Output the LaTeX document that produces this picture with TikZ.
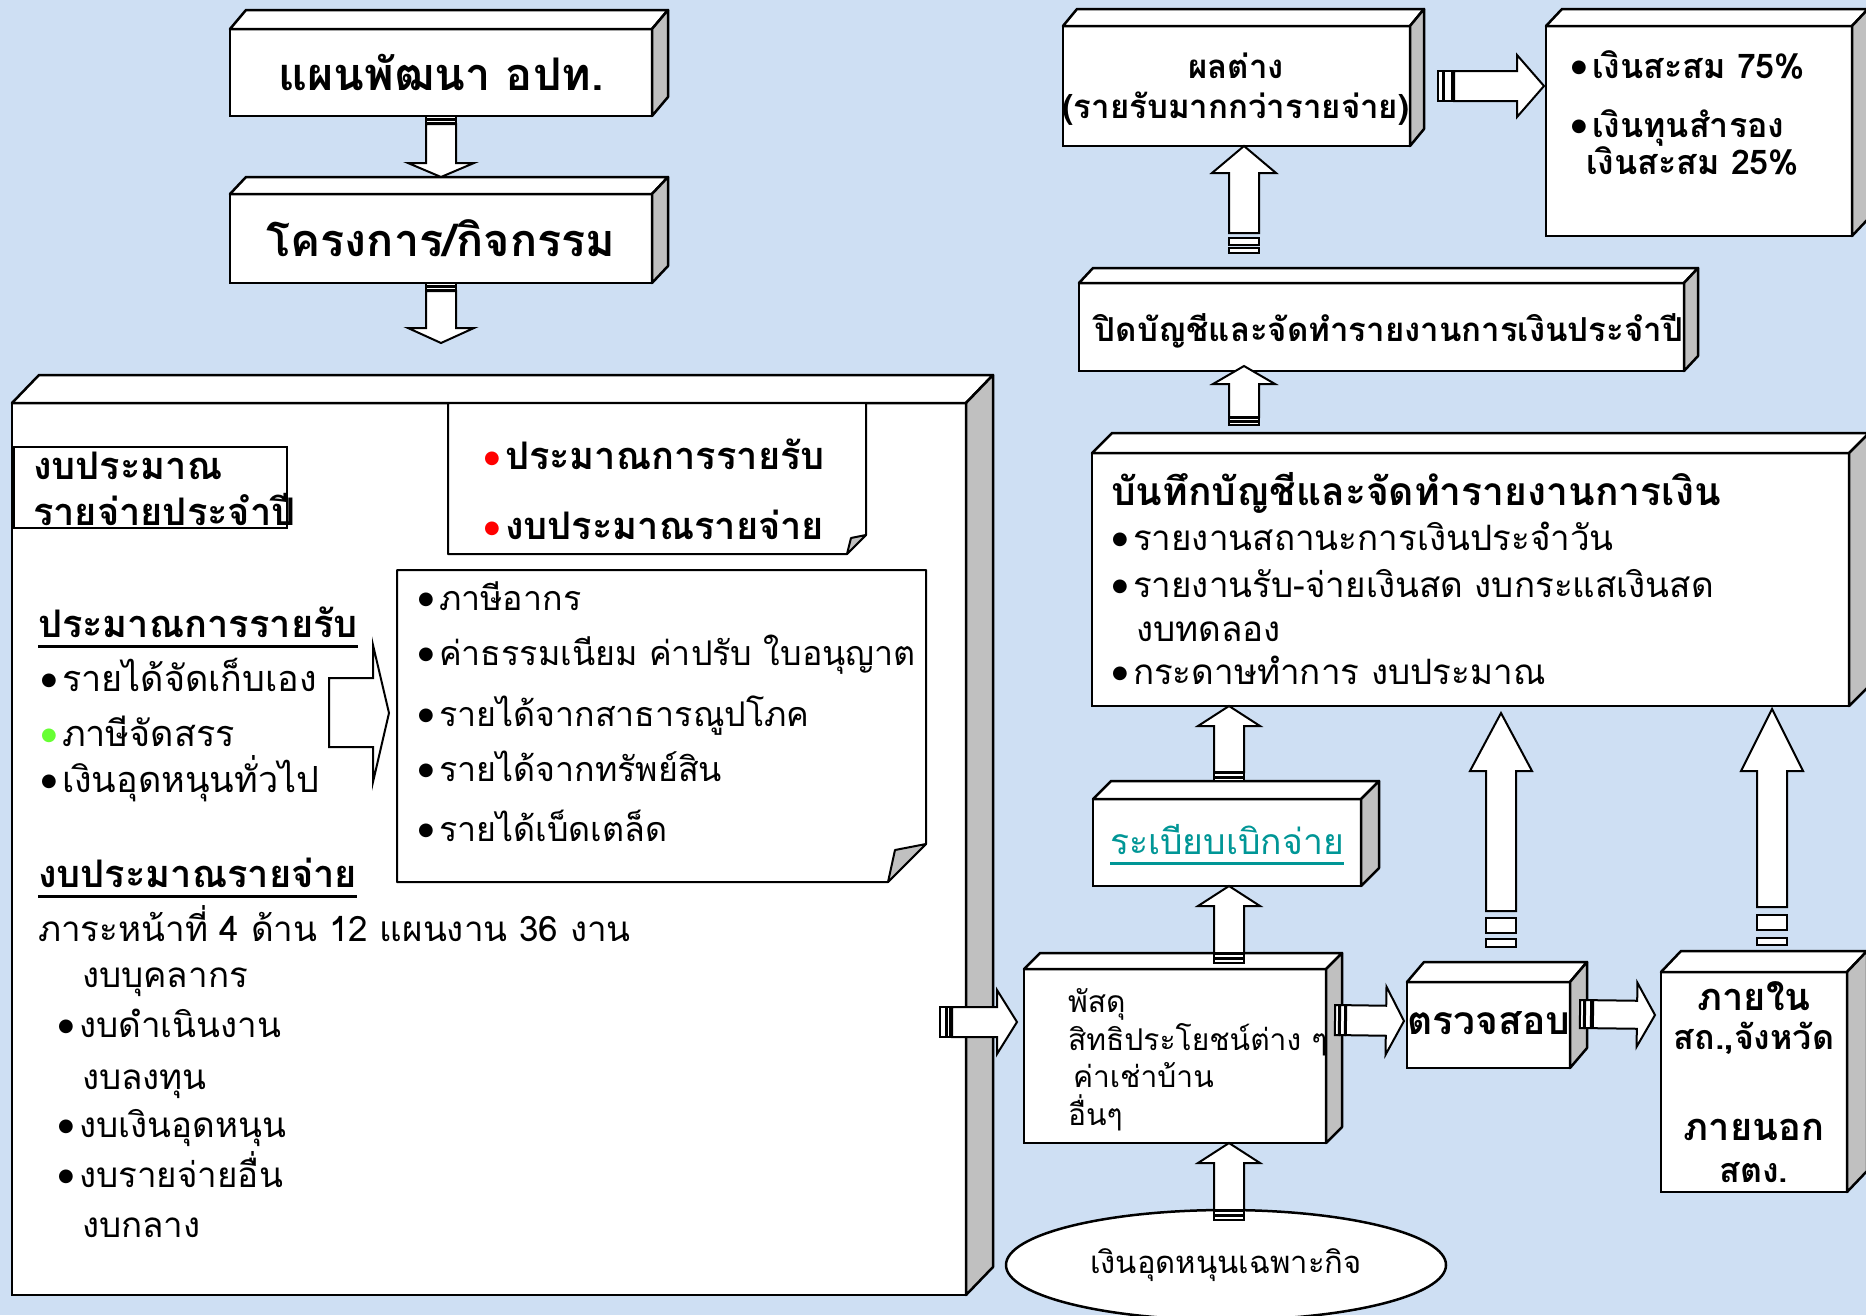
\documentclass[tikz,border=0pt]{standalone}
\usepackage{fontspec}
\setmainfont[Script=Thai]{Loma}
\newfontfamily\symfont{DejaVu Sans}
\usetikzlibrary{calc,shapes.geometric}
\definecolor{bgblue}{RGB}{206,223,243}
\definecolor{sidegray}{RGB}{192,192,192}
\definecolor{tealtxt}{RGB}{0,150,150}
\definecolor{bulgreen}{RGB}{102,255,51}
\newcommand{\bul}{{\symfont\fontsize{18}{18}\selectfont\raisebox{6.5pt}{●}}}
\newcommand{\fs}[1]{\fontsize{#1}{#1}\selectfont}
\newcommand{\bl}[1][black]{\makebox[23pt][l]{\hspace{2pt}\textcolor{#1}{\bul}}}
% 3D box: name, x1, y1, x2, y2, dx, dy, text
\newcommand{\tdbox}[8]{%
  \node[front, minimum width={(#4-#2)*1pt}, minimum height={(#5-#3)*1pt}] (#1) at (#2,#3) {#8};
  \draw[topface] (#1.north west) -- ++(#6,-#7) -- ($(#1.north east)+(#6,-#7)$) -- (#1.north east) -- cycle;
  \draw[sideface] (#1.north east) -- ++(#6,-#7) -- ($(#1.south east)+(#6,-#7)$) -- (#1.south east) -- cycle;
}
% striped block arrow: tail, tip, shaft half width, head half width, head length, bar1, gap1, bar2, gap2
\newcommand{\sarrow}[9]{%
  \path let \p1=(#1), \p2=(#2) in \pgfextra{%
    \pgfmathsetmacro\arang{atan2(\y2-\y1,\x2-\x1)}%
    \pgfmathsetmacro\arlen{veclen(\x2-\x1,\y2-\y1)}%
    \xdef\arangG{\arang}\xdef\arlenG{\arlen}};
  \begin{scope}[shift={(#1)}, rotate=\arangG, x=1pt, y=1pt]
    \draw[arrowbody] (0,-#3) rectangle (#6,#3);
    \draw[arrowbody] ({#6+#7},-#3) rectangle ({#6+#7+#8},#3);
    \draw[arrowbody] ({#6+#7+#8+#9},-#3) -- ({\arlenG-#5},-#3) -- ({\arlenG-#5},-#4)
      -- (\arlenG,0) -- ({\arlenG-#5},#4) -- ({\arlenG-#5},#3) -- ({#6+#7+#8+#9},#3) -- cycle;
  \end{scope}}
\begin{document}
\begin{tikzpicture}[x=1pt,y=-1pt,
  front/.style={draw, line width=2.5pt, fill=white, inner sep=0pt, outer sep=0pt, anchor=north west, align=center},
  topface/.style={draw, line width=2.5pt, fill=white, line join=round},
  sideface/.style={draw, line width=2.5pt, fill=sidegray, line join=round},
  arrowbody/.style={draw, line width=2pt, fill=white, line join=miter},
  notebox/.style={draw, line width=2pt, fill=white, line join=round},
  flap/.style={draw, line width=2pt, fill=sidegray, line join=round},
  txt/.style={inner sep=0pt, outer sep=0pt, anchor=mid west, yshift=-5pt},
  ctxt/.style={inner sep=0pt, outer sep=0pt, anchor=mid, yshift=-5pt},
  ul/.style={line width=2.5pt},
  R35/.style={font=\fs{35}},
  R34/.style={font=\fs{34}},
  R36/.style={font=\fs{36}},
  B38/.style={font=\fs{38}\bfseries},
  R30/.style={font=\fs{30}},
  B33/.style={font=\fs{33}\bfseries},
  B34/.style={font=\fs{34}\bfseries}]
\useasboundingbox (0,0) rectangle (1866,1315);
\clip (0,0) rectangle (1866,1315);
\fill[bgblue] (0,0) rectangle (1866,1315);

% ---------- big budget box ----------
\tdbox{C}{12}{403}{966}{1295}{27}{28}{}
\node[draw, line width=2.5pt, fill=white, inner sep=0pt, outer sep=0pt, anchor=north west,
      minimum width=273pt, minimum height=81pt] (L) at (14,447) {};
\node[txt, B38] (L1) at (33,472) {งบประมาณ};
\node[txt, B38] (L2) at (33,518) {รายจ่ายประจำปี};

% note 1
\node[inner sep=0pt, outer sep=0pt, anchor=north west, minimum width=418pt, minimum height=151pt] (N1) at (448,403) {};
\draw[notebox] (N1.north west) -- (N1.north east) -- ($(N1.south east)+(0,-19)$) -- ($(N1.south east)+(-19,0)$) -- (N1.south west) -- cycle;
\draw[flap] ($(N1.south east)+(0,-19)$) -- ($(N1.south east)+(-19,0)$) -- ($(N1.south east)+(-15,-16)$) -- cycle;
\node[txt, B38] (n1a) at (482,462) {\bl[red]ประมาณการรายรับ};
\node[txt, B38] (n1b) at (482,532) {\bl[red]งบประมาณรายจ่าย};

% note 2
\node[inner sep=0pt, outer sep=0pt, anchor=north west, minimum width=529pt, minimum height=312pt] (N2) at (397,570) {};
\draw[notebox] (N2.north west) -- (N2.north east) -- ($(N2.south east)+(0,-38)$) -- ($(N2.south east)+(-38,0)$) -- (N2.south west) -- cycle;
\draw[flap] ($(N2.south east)+(0,-38)$) -- ($(N2.south east)+(-38,0)$) -- ($(N2.south east)+(-31,-32)$) -- cycle;
\node[txt, R34] (n2a) at (416,603) {\bl ภาษีอากร};
\node[txt, R34] (n2b) at (416,658) {\bl ค่าธรรมเนียม ค่าปรับ ใบอนุญาต};
\node[txt, R34] (n2c) at (416,719) {\bl รายได้จากสาธารณูปโภค};
\node[txt, R34] (n2d) at (416,774) {\bl รายได้จากทรัพย์สิน};
\node[txt, R34] (n2e) at (416,834) {\bl รายได้เบ็ดเตล็ด};

% income heading and list
\node[txt, B38] (h1) at (38,630) {ประมาณการรายรับ};
\draw[ul] ($(h1.base west)+(0,9)$) -- ($(h1.base east)+(0,9)$);
\node[txt, R36] (i1) at (39,684) {\bl รายได้จัดเก็บเอง};
\node[txt, R36] (i2) at (39,739) {\bl[bulgreen]ภาษีจัดสรร};
\node[txt, R36] (i3) at (39,785) {\bl เงินอุดหนุนทั่วไป};

% bracket arrow
\draw[arrowbody, fill=white] (329,678) coordinate (br1) -- (373,678) -- (373,645) -- (389,713) coordinate (br2)
  -- (373,782) -- (373,747) -- (329,747) -- cycle;

% expenditure heading and list
\node[txt, B38] (h2) at (38,880) {งบประมาณรายจ่าย};
\draw[ul] ($(h2.base west)+(0,9)$) -- ($(h2.base east)+(0,9)$);
\node[txt, R35] (e0) at (38,934) {ภาระหน้าที่ 4 ด้าน 12 แผนงาน 36 งาน};
\node[txt, R35] (e1) at (82,980) {งบบุคลากร};
\node[txt, R35] (e2) at (56,1030) {\bl งบดำเนินงาน};
\node[txt, R35] (e3) at (82,1082) {งบลงทุน};
\node[txt, R35] (e4) at (56,1130) {\bl งบเงินอุดหนุน};
\node[txt, R35] (e5) at (56,1180) {\bl งบรายจ่ายอื่น};
\node[txt, R35] (e6) at (82,1230) {งบกลาง};

% ---------- left top boxes ----------
\tdbox{A}{230}{29}{652}{116}{16}{19}{\fs{45}\bfseries แผนพัฒนา อปท.}
\tdbox{B}{230}{194}{652}{283}{16}{17}{\raisebox{-3pt}{\fs{45}\bfseries โครงการ/กิจกรรม}}

% ---------- right side boxes ----------
\tdbox{I}{1063}{26}{1410}{146}{14}{17}{}
\node[ctxt, B33] (i1a) at (1236,71) {ผลต่าง};
\node[ctxt, B33] (i1b) at (1236,111) {(รายรับมากกว่ารายจ่าย)};
\tdbox{J}{1546}{26}{1852}{236}{16}{17}{}
\node[txt, B34] (j1) at (1569,71) {\bl เงินสะสม 75\%};
\node[txt, B34] (j2) at (1569,130) {\bl เงินทุนสำรอง};
\node[txt, B34] (j3) at (1586,167) {เงินสะสม 25\%};
\tdbox{K}{1079}{283}{1684}{371}{14}{15}{}
\node[ctxt, B33] (k1) at (1389,334) {ปิดบัญชีและจัดทำรายงานการเงินประจำปี};
\tdbox{F}{1092}{453}{1849}{706}{20}{20}{}
\node[txt, font=\fs{39}\bfseries] (f0) at (1111,498) {บันทึกบัญชีและจัดทำรายงานการเงิน};
\node[txt, R35] (f1) at (1110,543) {\bl รายงานสถานะการเงินประจำวัน};
\node[txt, R35] (f2) at (1110,590) {\bl รายงานรับ-จ่ายเงินสด งบกระแสเงินสด};
\node[txt, R35] (f3) at (1136,634) {งบทดลอง};
\node[txt, R35] (f4) at (1110,677) {\bl กระดาษทำการ งบประมาณ};
\tdbox{E}{1093}{799}{1361}{886}{18}{18}{}
\node[txt, font=\fs{35.5}, text=tealtxt] (e) at (1110,847) {ระเบียบเบิกจ่าย};
\draw[ul, tealtxt] ($(e.base west)+(0,9)$) -- ($(e.base east)+(0,9)$);
\tdbox{D}{1024}{969}{1326}{1143}{16}{16}{}
\node[txt, R30] (d1) at (1068,1005) {พัสดุ};
\node[txt, R30] (d2) at (1068,1043) {สิทธิประโยชน์ต่าง ๆ};
\node[txt, R30] (d3) at (1073,1080) {ค่าเช่าบ้าน};
\node[txt, R30] (d4) at (1068,1118) {อื่นๆ};
\tdbox{G}{1407}{982}{1570}{1068}{17}{20}{}
\node[ctxt, font=\fs{39}\bfseries] (g1) at (1489,1027) {ตรวจสอบ};
\tdbox{H}{1661}{972}{1847}{1192}{20}{21}{}
\node[ctxt, font=\fs{38}\bfseries] (h1a) at (1754,1003) {ภายใน};
\node[ctxt, B34] (h1b) at (1754,1042) {สถ.,จังหวัด};
\node[ctxt, font=\fs{38}\bfseries] (h2a) at (1754,1133) {ภายนอก};
\node[ctxt, B34] (h2b) at (1754,1175) {สตง.};
\node[ellipse, draw, line width=2.5pt, fill=white, minimum width=440pt, minimum height=110pt, inner sep=0pt]
  (EL) at (1226,1265) {\raisebox{-7pt}{\fs{31}เงินอุดหนุนเฉพาะกิจ}};

% ---------- arrows ----------
\coordinate (a1t) at (441,116); \coordinate (a1h) at (441,177);
\coordinate (a2t) at (441,283); \coordinate (a2h) at (441,343);
\coordinate (a3t) at (940,1022); \coordinate (a3h) at (1017,1022);
\coordinate (a4t) at (1229,1220); \coordinate (a4h) at (1229,1143);
\coordinate (a5t) at (1229,963); \coordinate (a5h) at (1229,886);
\coordinate (a6t) at (1229,781); \coordinate (a6h) at (1229,706);
\coordinate (a7t) at (1244,425); \coordinate (a7h) at (1244,366);
\coordinate (a8t) at (1244,253); \coordinate (a8h) at (1244,146);
\coordinate (a9t) at (1438,86); \coordinate (a9h) at (1544,86);
\coordinate (a10t) at (1335,1020); \coordinate (a10h) at (1404,1021);
\coordinate (a11t) at (1580,1014); \coordinate (a11h) at (1655,1015);
\coordinate (a12t) at (1501,947); \coordinate (a12h) at (1501,713);
\coordinate (a13t) at (1772,945); \coordinate (a13h) at (1772,709);
\sarrow{a1t}{a1h}{15}{33}{14}{3}{1}{3}{1}
\sarrow{a2t}{a2h}{15}{33}{15}{3}{1}{3}{1}
\sarrow{a3t}{a3h}{15}{32}{20}{6}{1}{3}{2}
\sarrow{a4t}{a4h}{15}{31}{20}{4}{1}{4}{1}
\sarrow{a5t}{a5h}{15}{31}{20}{4}{1}{4}{1}
\sarrow{a6t}{a6h}{15}{31}{20}{3}{1}{4}{1}
\sarrow{a7t}{a7h}{15}{31}{18}{3}{1}{3}{1}
\sarrow{a8t}{a8h}{15}{32}{27}{5}{3}{7}{5}
\sarrow{a9t}{a9h}{15}{31}{27}{5}{1}{8}{2}
\sarrow{a10t}{a10h}{15}{34}{18}{4}{1}{5}{1}
\sarrow{a11t}{a11h}{14}{32}{18}{4}{1}{6}{2}
\sarrow{a12t}{a12h}{15}{31}{58}{8}{6}{15}{7}
\sarrow{a13t}{a13h}{15}{31}{62}{7}{8}{15}{8}
\end{tikzpicture}
\end{document}
